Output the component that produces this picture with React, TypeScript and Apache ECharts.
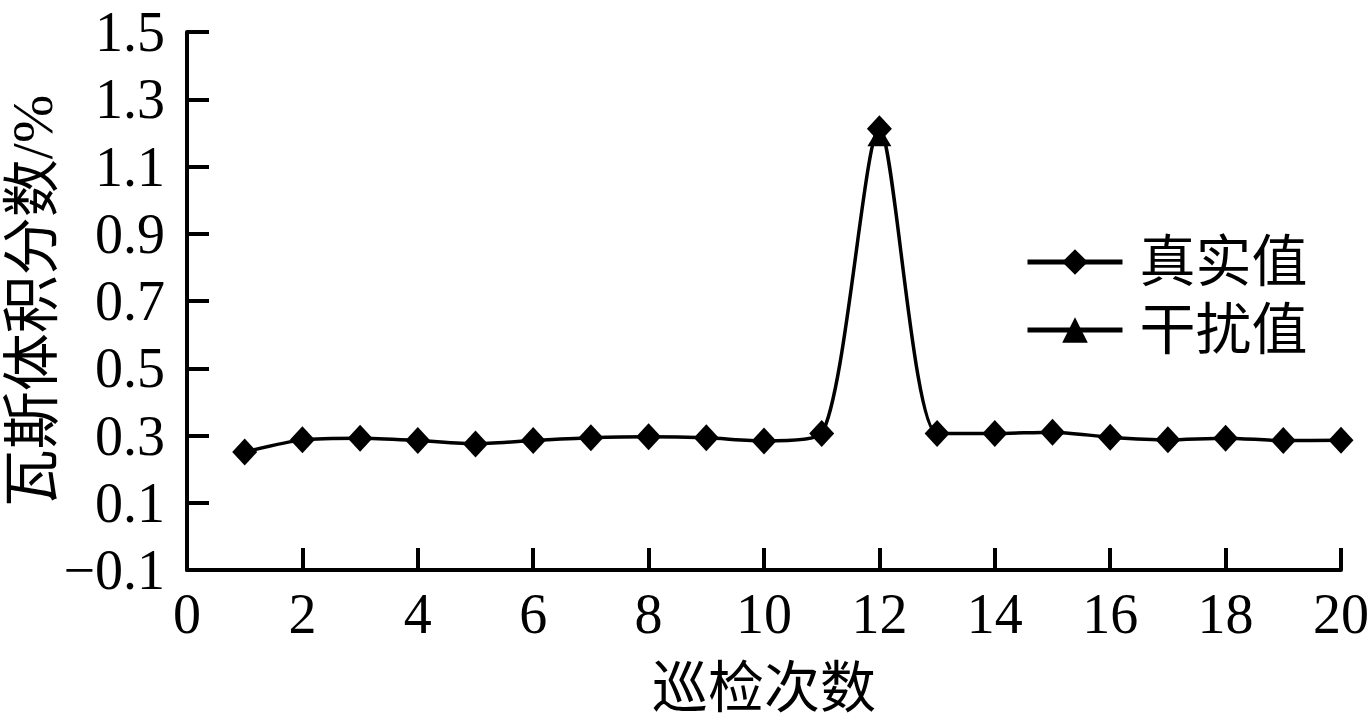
import React, { useEffect, useRef } from "react";
import * as echarts from "echarts";

const xValues = [1, 2, 3, 4, 5, 6, 7, 8, 9, 10, 11, 12, 13, 14, 15, 16, 17, 18, 19, 20];
const realValues = [0.251, 0.287, 0.292, 0.285, 0.275, 0.285, 0.293, 0.296, 0.293, 0.284, 0.306, 1.212, 0.306, 0.306, 0.31, 0.295, 0.287, 0.292, 0.285, 0.286];
// interference series: its marks coincide with the real values except at the disturbed inspection
const noiseValues: (number | null)[] = [null, null, null, null, null, null, null, null, null, null, null, 1.19, null, null, null, null, null, null, null, null];
const seriesNames = ["真实值", "干扰值"];
const xAxisName = "巡检次数";
const yAxisName = "瓦斯体积分数/%";

const FONT = "'Liberation Serif', 'Times New Roman', 'Noto Sans CJK SC', serif";

export default function App() {
  const ref = useRef<HTMLDivElement>(null);
  useEffect(() => {
    if (!ref.current) return;
    const chart = echarts.init(ref.current, undefined, { renderer: "svg" });
    const mk = (vals: (number | null)[]) => xValues.map((x, i) => [x, vals[i]]);
    chart.setOption({
      animation: false,
      backgroundColor: "#ffffff",
      textStyle: { fontFamily: FONT, color: "#000" },
      grid: { left: 187, top: 32, right: 30, bottom: 153, containLabel: false, outerBoundsMode: "none" },
      legend: {
        orient: "vertical",
        left: 1025,
        top: 230,
        padding: 0,
        itemWidth: 95,
        itemHeight: 32,
        itemGap: 4,
        lineStyle: { width: 5, color: "#000" },
        data: [seriesNames[0], seriesNames[1]],
        textStyle: {
          fontFamily: FONT,
          fontSize: 56,
          lineHeight: 64,
          color: "#000",
          padding: [0, 0, 0, 12],
        },
      },
      xAxis: {
        type: "value",
        min: 0,
        max: 20,
        interval: 2,
        name: xAxisName,
        nameLocation: "middle",
        nameGap: 90,
        nameMoveOverlap: false,
        nameTextStyle: { fontFamily: FONT, fontSize: 56, color: "#000" },
        axisLine: { show: true, onZero: false, lineStyle: { color: "#000", width: 4 } },
        axisTick: { show: true, inside: true, length: 22, lineStyle: { color: "#000", width: 4 } },
        axisLabel: { fontFamily: FONT, fontSize: 56, color: "#000", margin: 16 },
        splitLine: { show: false },
      },
      yAxis: {
        type: "value",
        min: -0.1,
        max: 1.5,
        interval: 0.2,
        name: yAxisName,
        nameLocation: "middle",
        nameGap: 126,
        nameMoveOverlap: false,
        nameRotate: 90,
        nameTextStyle: { fontFamily: FONT, fontSize: 58, color: "#000" },
        axisLine: { show: true, onZero: false, lineStyle: { color: "#000", width: 4 } },
        axisTick: { show: true, inside: true, length: 22, lineStyle: { color: "#000", width: 4 } },
        axisLabel: {
          fontFamily: FONT,
          fontSize: 56,
          color: "#000",
          margin: 22,
          formatter: (v: number) => (v < 0 ? "\u2212" + Math.abs(v).toFixed(1) : v.toFixed(1)),
        },
        splitLine: { show: false },
      },
      series: [
        {
          name: seriesNames[0],
          type: "line",
          data: mk(realValues),
          smooth: 0.25,
          symbol: "diamond",
          symbolSize: [25, 27],
          z: 3,
          itemStyle: { color: "#000" },
          lineStyle: { color: "#000", width: 3.5 },
        },
        {
          name: seriesNames[1],
          type: "line",
          data: mk(noiseValues),
          smooth: 0.25,
          symbol: "triangle",
          symbolSize: [24, 20],
          z: 2,
          itemStyle: { color: "#000" },
          lineStyle: { color: "#000", width: 3.5 },
        },
      ],
    });
    return () => chart.dispose();
  }, []);
  return <div ref={ref} style={{ width: 1371, height: 723, position: "absolute", left: 0, top: 0 }} />;
}
